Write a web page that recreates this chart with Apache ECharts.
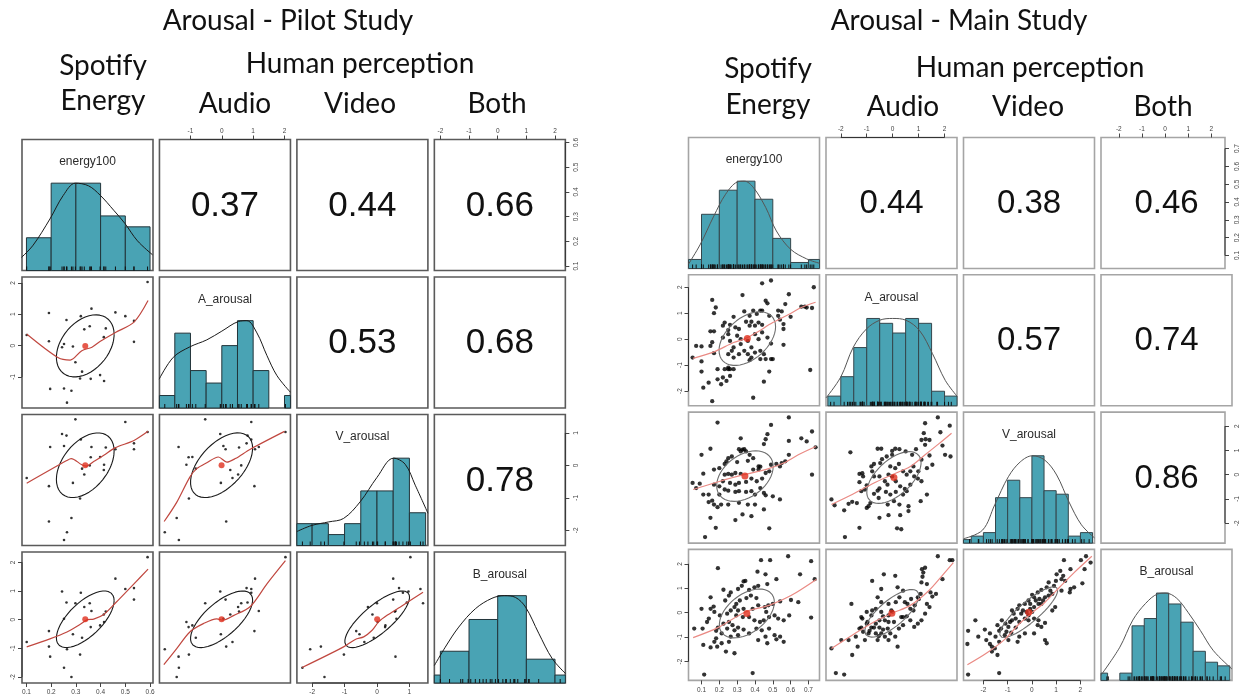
<!DOCTYPE html>
<html>
<head>
<meta charset="utf-8">
<script src="https://cdn.jsdelivr.net/npm/echarts@6/dist/echarts.min.js"></script>
<style>
html,body{margin:0;padding:0;background:#fff;}
#chart{width:1241px;height:696px;}
</style>
</head>
<body>
<div id="chart"></div>
<script>
// ---------- Variables shown on the diagonal ----------
const varNames = ['energy100', 'A_arousal', 'V_arousal', 'B_arousal'];

// ---------- Pilot study: one entry per song ----------
const pilotEnergy = [0.101,0.191,0.191,0.196,0.244,0.252,0.262,0.264,0.282,0.288,0.298,0.317,0.320,0.325,0.334,0.356,0.360,0.363,0.398,0.413,0.414,0.460,0.500,0.535,0.535,0.590,0.252,0.421];
const pilotAudio  = [0.34,1.04,0.14,-1.38,-0.05,-1.37,0.82,-1.82,-1.44,-0.03,-0.53,-1.05,0.94,-0.83,0.52,0.62,-1.06,1.18,-0.94,0.27,-1.13,1.06,0.94,0.79,0.12,2.03,0.05,0.55];
const pilotVideo  = [-0.39,-0.64,-1.73,0.57,0.97,-2.30,0.92,-2.06,-1.62,-0.54,1.42,-1.02,0.80,-0.10,-0.28,0.00,0.25,0.57,0.26,-0.14,0.02,0.50,1.34,0.68,0.50,1.03,0.60,0.55];
const pilotBoth   = [-0.78,-0.40,-0.94,-1.29,0.98,-1.68,0.60,-1.03,-2.00,-0.51,0.57,-1.22,0.94,-0.63,0.44,0.57,-0.26,0.30,-0.20,0.18,-0.08,1.43,1.07,1.10,0.70,2.18,0.03,0.28];

// correlations, in the order energy-A, energy-V, A-V, energy-B, A-B, V-B
const pilotCorr = [0.37, 0.44, 0.53, 0.66, 0.68, 0.78];
const pilotRanges = [[0.082, 0.612], [-1.99, 2.19], [-2.47, 1.57], [-2.21, 2.36]];
const pilotTicks = [[0.1,0.2,0.3,0.4,0.5,0.6], [-1,0,1,2], [-2,-1,0,1], [-2,-1,0,1,2]];
const pilotHistStart = [0.1, -2, -2.5, -3];
const pilotHistWidth = [0.1, 0.5, 0.5, 1];
const pilotHistCounts = [[3,8,8,5,4], [1,6,3,2,5,7,3,0,1], [2,2,1,2,5,5,8,3], [1,4,8,11,3,1]];
const pilotDensity = [
  [[0.080,0.15],[0.127,0.29],[0.195,0.59],[0.249,0.86],[0.298,1.0],[0.351,0.97],[0.399,0.86],[0.453,0.69],[0.498,0.54],[0.549,0.34],[0.610,0.18]],
  [[-2.0,0.33],[-1.55,0.58],[-1.02,0.70],[-0.48,0.78],[0,0.88],[0.53,0.99],[0.80,1.0],[1.12,0.86],[1.44,0.60],[1.76,0.37],[2.19,0.18]],
  [[-2.47,0.16],[-2.01,0.23],[-1.49,0.27],[-1.03,0.31],[-0.52,0.50],[0,0.78],[0.51,1.0],[0.87,0.93],[1.18,0.69],[1.57,0.37]],
  [[-2.21,0.20],[-1.83,0.41],[-1.36,0.64],[-0.78,0.85],[-0.20,0.97],[0.23,1.0],[0.62,0.98],[0.97,0.87],[1.43,0.57],[1.90,0.28],[2.36,0.11]]
];
const pilotSmooth = [
  [[0.101,0.37],[0.229,-0.39],[0.277,-0.46],[0.324,-0.16],[0.365,-0.05],[0.399,0.14],[0.460,0.42],[0.535,0.75],[0.592,1.44]],
  [[0.101,-0.55],[0.263,0.15],[0.281,0.21],[0.324,0.02],[0.342,-0.02],[0.372,0.12],[0.413,0.31],[0.458,0.54],[0.535,0.77],[0.592,1.05]],
  [[-1.84,-1.73],[-1.44,-1.14],[-1.02,-0.36],[-0.80,-0.10],[-0.48,0.08],[-0.11,0.26],[0.16,0.10],[0.43,0.21],[0.91,0.50],[2.0,1.05]],
  [[0.101,-0.95],[0.195,-0.67],[0.264,-0.43],[0.318,-0.16],[0.347,0],[0.372,0.02],[0.413,0.18],[0.460,0.58],[0.535,1.25],[0.592,1.76]],
  [[-1.85,-1.57],[-1.44,-1.01],[-1.02,-0.43],[-0.59,-0.14],[-0.16,0.03],[0.03,-0.02],[0.37,0.14],[0.91,0.46],[1.44,1.25],[2.03,2.06]],
  [[-2.31,-1.67],[-1.03,-0.95],[-0.67,-0.69],[-0.41,-0.60],[-0.15,-0.37],[0.05,-0.08],[0.31,0.15],[0.72,0.44],[1.42,0.96]]
];

// ---------- Main study: points of each scatter panel ----------
const mainEnergyAudio = [
[.44,2.15],[.49,2.26],[.33,1.70],[.16,1.51],[.59,1.73],[.73,2.00],[.46,1.48],[.47,1.38],[.18,1.22],[.34,1.07],
[.55,1.07],[.57,1.35],[.17,1.00],[.39,1.10],[.43,1.10],[.44,1.10],[.41,.97],[.37,.90],[.28,.86],[.23,.64],
[.26,.55],[.22,.52],[.25,.35],[.29,.45],[.31,.39],[.35,.67],[.38,.67],[.42,.64],[.37,.52],[.40,.52],
[.44,.55],[.48,.90],[.53,.90],[.54,.75],[.56,.58],[.66,1.25],[.68,1.25],[.69,1.22],[.72,1.20],[.60,.86],
[.15,.30],[.17,.30],[.22,.06],[.25,.19],[.30,.13],[.32,.00],[.26,-.07],[.28,-.32],[.32,-.19],[.34,-.45],
[.36,-.07],[.40,.19],[.42,.00],[.44,.26],[.47,.06],[.49,-.17],[.38,-.32],[.27,-.45],[.25,-.58],[.28,-.71],
[.31,-.58],[.36,-.58],[.38,-.71],[.40,-.52],[.43,-.45],[.45,-.58],[.37,-.81],[.43,-.77],[.16,-.12],[.15,-.26],
[.17,-.54],[.07,-.26],[.10,-.28],[.05,-.71],[.10,-.86],[.46,-.77],[.49,-.77],[.50,-.77],[.56,-.22],[.56,.39],
[.53,1.10],[.23,-1.16],[.25,-1.16],[.25,-1.10],[.26,-1.16],[.19,-1.16],[.28,-1.16],[.10,-1.25],[.19,-1.55],[.22,-1.48],
[.24,-1.61],[.26,-1.42],[.21,-1.74],[.14,-1.68],[.11,-1.87],[.48,-1.25],[.45,-1.64],[.39,-2.26],[.16,-2.39],[.71,-1.19]
];
const mainEnergyVideo = [
[.19,2.15],[.49,2.05],[.59,2.36],[.72,1.78],[.32,1.50],[.47,1.67],[.59,1.39],[.66,1.50],[.69,1.37],[.46,1.46],
[.45,1.26],[.74,1.13],[.15,1.07],[.10,.82],[.31,1.05],[.33,1.03],[.34,1.05],[.35,.96],[.32,.96],[.37,.82],
[.27,.75],[.25,.68],[.24,.55],[.23,.44],[.30,.52],[.36,.57],[.39,.68],[.42,.34],[.43,.33],[.49,.41],
[.52,.44],[.55,.48],[.57,.55],[.59,.82],[.54,.34],[.20,.27],[.17,.21],[.11,.04],[.23,.00],[.25,.03],
[.27,.00],[.29,.07],[.32,.03],[.39,.21],[.42,.21],[.46,.07],[.48,.14],[.72,.00],[.05,-.34],[.09,-.37],
[.07,-.55],[.17,-.41],[.20,-.48],[.22,-.27],[.26,-.34],[.29,-.41],[.31,-.34],[.35,-.30],[.38,-.16],[.41,-.27],
[.44,-.16],[.23,-.61],[.25,-.66],[.29,-.71],[.31,-.68],[.35,-.71],[.38,-.68],[.43,-.55],[.45,-.75],[.14,-.82],
[.11,-.82],[.20,-.82],[.40,-.82],[.46,-.85],[.50,-.89],[.54,-1.02],[.14,-1.13],[.16,-1.07],[.17,-1.23],[.19,-1.34],
[.21,-1.23],[.25,-1.23],[.31,-1.16],[.36,-1.23],[.40,-1.23],[.45,-1.43],[.33,-1.64],[.15,-1.78],[.29,-1.87],[.38,-1.71],
[.18,-2.19],[.48,-2.21],[.12,-2.57]
];
const mainAudioVideo = [
[-2.36,-1.02],[-2.24,-1.26],[-1.70,-1.20],[-1.56,-1.12],[-1.38,-1.17],[-1.28,-2.19],[-1.84,-2.57],[-1.00,-1.37],[-.93,-1.30],[-.86,-1.17],
[-1.21,-.68],[-1.07,-.61],[-1.00,-.44],[-.72,-.79],[-.58,-.66],[-.51,-.57],[-1.28,-.31],[-1.14,-.07],[-.79,.14],[-.72,-.07],
[-.51,-.07],[-.30,-.27],[-.20,-.41],[-1.28,.03],[-1.17,.06],[-.82,.34],[-.72,.44],[-.48,.48],[-.41,.64],[-.58,1.07],
[-.44,1.07],[-.23,.75],[-.02,.82],[-.09,.34],[.10,.27],[.24,.44],[.40,.14],[.54,.00],[.68,.14],[.83,-.07],
[.97,-.16],[1.11,-.27],[-.16,.00],[-.02,-.07],[.12,-.27],[.29,-.48],[.47,-.59],[.68,-.41],[.40,-.82],[.12,-.71],
[-.09,-.82],[-.26,-.71],[-.54,-.96],[-.19,-1.23],[.05,-1.09],[.26,-1.23],[.61,-1.30],[.61,-1.50],[.29,-1.67],[-.16,-1.67],
[-.51,-1.78],[.17,-2.21],[.33,-2.25],[.54,-.68],[1.08,-1.09],[1.32,-.82],[1.11,.62],[.75,.82],[.90,1.05],[1.25,1.23],
[1.11,1.43],[1.27,1.46],[1.42,1.43],[1.20,1.71],[1.25,2.12],[1.74,2.36],[1.84,1.75],[2.20,2.02],[2.02,.82],[1.92,1.20],
[2.23,.75],[1.42,.79],[1.53,.41],[1.32,.27],[.99,.14],[.80,.34],[.50,.96],[.26,1.05],[.10,1.07],[-.02,.98],
[-1.63,.92],[-1.87,-1.47]
];
const mainEnergyBoth = [
[.115,-2.53],[.387,-2.47],[.192,1.82],[.434,2.15],[.485,2.15],[.586,2.31],[.715,2.11],[.653,1.57],[.735,1.37],[.459,1.57],
[.414,1.68],[.336,1.28],[.326,1.10],[.346,1.30],[.305,.97],[.223,.94],[.264,.83],[.397,1.04],[.418,1.10],[.469,1.17],
[.520,1.37],[.367,.93],[.377,.70],[.408,.60],[.352,.60],[.315,.50],[.295,.36],[.285,.23],[.233,.50],[.254,.70],
[.168,.25],[.151,.16],[.172,.03],[.203,-.11],[.244,-.04],[.264,.09],[.305,.09],[.336,.16],[.387,.16],[.418,.30],
[.455,.23],[.475,.30],[.500,.36],[.541,.46],[.602,.52],[.643,.43],[.715,-.20],[.592,-.11],[.561,-.31],[.530,-.24],
[.510,-.11],[.463,.03],[.449,-.31],[.428,-.38],[.397,-.31],[.367,-.18],[.332,-.18],[.295,-.11],[.254,-.38],[.223,-.45],
[.274,-.51],[.305,-.61],[.336,-.69],[.285,-.72],[.244,-.65],[.192,-.61],[.182,-.74],[.213,-.85],[.264,-.98],[.305,-.92],
[.367,-.85],[.408,-.65],[.438,-.72],[.479,-.65],[.510,-.92],[.541,-.98],[.561,-1.19],[.520,-1.09],[.469,-1.25],[.254,-1.19],
[.213,-1.25],[.172,-1.19],[.110,-1.32],[.059,-.65],[.106,-.65],[.131,-.38],[.141,-.24],[.182,-1.05],[.188,-1.39],[.151,-1.42],
[.237,-1.59],[.285,-1.66],[.418,-1.12],[.459,-.98],[.479,-.18],[.100,.16],[.151,.63]
];
const mainAudioBoth = [
[-2.36,-1.46],[-2.19,-2.47],[-1.87,-2.53],[-1.98,-1.12],[-1.70,-1.12],[-1.56,-1.73],[-1.59,.36],[-1.28,-.65],[-1.21,-.61],[-1.14,-.78],
[-1.07,-1.12],[-1.35,-1.39],[-1.42,-.98],[-.93,-.85],[-.89,-.74],[-.82,-.61],[-.72,-.61],[-1.00,-.45],[-1.17,-.24],[-1.21,-.18],
[-.82,-.11],[-.65,-.45],[-.51,-.61],[-.37,-.69],[-.44,-.85],[-.54,-.96],[-.58,-1.12],[-.30,-.98],[-.09,-.85],[-.16,-1.12],
[.10,-.98],[.24,-.65],[.40,-.51],[.19,-1.39],[-.02,.03],[-.16,.36],[-.44,.43],[-.58,.63],[-.44,.97],[-.79,1.30],
[-.34,1.57],[.10,1.51],[.19,1.04],[.40,.90],[.26,.63],[.12,.43],[.47,.43],[.57,.36],[.71,.56],[.68,.16],
[.80,.09],[.85,.30],[.97,.63],[1.01,.56],[1.08,.77],[.54,-.15],[.40,-.18],[.68,-.31],[.83,-.58],[.97,-.45],
[1.11,-.31],[1.25,-.04],[1.42,.23],[1.11,1.24],[1.15,1.47],[1.18,1.64],[1.13,1.78],[1.25,1.84],[1.74,2.31],[2.20,2.15],
[2.30,2.15],[1.32,1.17],[1.46,.83],[1.53,.66],[1.67,.77],[1.92,1.37],[1.32,.36],[.33,-.18],[.05,-.38],[-.16,-.38],
[-.30,-.31],[-.16,-.11],[-.05,.09],[-.37,-.15],[-.44,.03],[-.65,.16],[-.79,.09],[-1.00,.03],[-.97,-.38],[-.65,-.85],
[-.19,-.65],[-.51,-.31]
];
const mainVideoBoth = [
[-2.63,-2.53],[-1.35,-2.47],[-2.63,-.74],[-2.66,-1.28],[-2.33,-.31],[-2.21,-.98],[-1.94,-.69],[-1.73,-.85],[-1.88,-1.12],[-1.73,-1.28],
[-1.65,-1.39],[-1.53,-1.46],[-1.65,-1.59],[-1.42,-1.73],[-1.35,-1.19],[-1.50,-.98],[-1.35,-.74],[-1.27,-.65],[-1.05,-.78],[-1.12,-.92],
[-.97,-.58],[-1.09,-.45],[-1.42,-.51],[-1.24,-.31],[-.90,-.38],[-.82,-.31],[-.67,-.24],[-.75,-.04],[-.82,.09],[-.59,.16],
[-.52,.30],[-.37,.09],[-.44,-.04],[-.22,.03],[-.14,-.11],[-.07,.16],[.01,.03],[.09,.23],[-.29,.36],[-.14,.50],
[.16,.50],[.31,.56],[.27,.36],[.39,.36],[.46,.50],[.54,.63],[.69,.70],[.76,.90],[.84,.77],[.61,1.04],
[.69,1.24],[.39,.93],[.24,.83],[.01,.73],[.09,.63],[.91,1.10],[.99,1.30],[1.02,1.57],[1.17,1.71],[1.22,1.37],
[1.29,1.51],[1.37,1.30],[1.22,.90],[1.56,.83],[1.74,1.04],[1.32,2.15],[2.02,2.15],[2.23,2.31],[2.17,1.78],[2.42,2.05],
[2.08,1.20],[1.59,.97],[-.14,-.31],[.24,-.51],[.39,-.58],[.54,-.42],[.09,-.24],[-.29,-.24],[-.52,-.38],[-.67,-.61],
[-.85,-.82],[-.52,-.98],[-.29,-.85],[-.59,-1.19],[-.97,-1.12],[.09,-.85],[.54,-1.12],[.61,-1.25],[.27,-.31],[.84,.09],
[.96,.23],[-.07,.36],[1.59,1.78]
];

const mainCorr = [0.44, 0.38, 0.57, 0.46, 0.74, 0.86];
const mainRanges = [[0.027, 0.762], [-2.57, 2.48], [-2.82, 2.58], [-2.77, 2.59]];
const mainTicks = [[0.1,0.2,0.3,0.4,0.5,0.6,0.7], [-2,-1,0,1,2], [-2,-1,0,1,2], [-2,-1,0,1,2]];
const mainHistStart = [0, -2.5, -3, -3];
const mainHistWidth = [0.1, 0.5, 0.5, 0.5];
const mainHistCounts = [[3,18,26,29,23,10,2,3], [2,6,12,18,17,15,18,17,3,2], [1,2,3,13,18,13,25,15,14,2,3], [2,0,2,15,17,24,21,16,8,5,4]];
const mainDensity = [
  [[0.027,0.05],[0.094,0.28],[0.169,0.60],[0.235,0.85],[0.30,0.99],[0.34,1.0],[0.39,0.93],[0.46,0.70],[0.52,0.43],[0.60,0.22],[0.69,0.11],[0.762,0.06]],
  [[-2.57,0.09],[-2.0,0.33],[-1.52,0.67],[-1.01,0.88],[-0.5,0.98],[0,1.0],[0.51,0.98],[1.04,0.86],[1.53,0.60],[2.03,0.29],[2.48,0.11]],
  [[-2.82,0.05],[-2.03,0.15],[-1.53,0.44],[-0.97,0.76],[-0.48,0.93],[0.02,1.0],[0.53,0.95],[1.02,0.78],[1.53,0.47],[2.04,0.21],[2.58,0.06]],
  [[-2.77,0.06],[-2.0,0.38],[-1.47,0.69],[-0.95,0.88],[-0.45,0.99],[-0.12,1.0],[0.33,0.94],[0.79,0.78],[1.3,0.57],[1.83,0.34],[2.59,0.13]]
];
const mainSmooth = [
  [[0.053,-0.74],[0.17,-0.49],[0.28,-0.13],[0.34,0],[0.41,0.26],[0.50,0.64],[0.60,0.99],[0.66,1.22],[0.74,1.42]],
  [[0.053,-0.61],[0.19,-0.30],[0.336,0],[0.459,0.21],[0.561,0.48],[0.643,0.82],[0.742,1.16]],
  [[-2.36,-1.23],[-1.56,-0.82],[-0.72,-0.34],[-0.02,0],[0.68,0.34],[1.25,0.82],[1.81,1.30],[2.27,1.71]],
  [[0.053,-1.02],[0.192,-0.61],[0.346,0.03],[0.479,0.30],[0.602,0.70],[0.746,1.37]],
  [[-2.36,-1.46],[-1.56,-0.92],[-0.72,-0.38],[-0.02,-0.02],[0.68,0.30],[1.39,0.90],[1.95,1.57],[2.34,2.05]],
  [[-2.66,-2.13],[-1.88,-1.66],[-1.12,-1.09],[-0.52,-0.45],[0.01,0],[0.54,0.43],[1.14,1.04],[1.74,1.64],[2.47,2.31]]
];

// ---------- Page headings ----------
const headings = [
  ['Arousal - Pilot Study', 288, 21], ['Spotify', 103, 66], ['Energy', 103, 101], ['Human perception', 360, 64],
  ['Audio', 235, 104], ['Video', 360, 104], ['Both', 497, 104],
  ['Arousal - Main Study', 959, 21], ['Spotify', 768, 69], ['Energy', 768, 105], ['Human perception', 1030, 68],
  ['Audio', 903, 107], ['Video', 1028, 107], ['Both', 1163, 107]
];

// ---------- Drawing ----------
const FONT_SANS = '"Liberation Sans", Arial, Helvetica, sans-serif';
const FONT_HEAD = 'Lato, "Open Sans", sans-serif';
const HIST_FILL = '#49a3b4';
const MEAN_RED = '#e0301e';
const LOWER = [[1,0],[2,0],[2,1],[3,0],[3,1],[3,2]];

const looks = {
  pilot: {left:22, top:139.5, pitchX:137.45, pitchY:137.5, size:131, box:'#5a5a5a', boxWidth:1.6, dot:2.6, meanDot:6,
          smooth:'#c0473f', ellipse:'#1a1a1a', density:'#1a1a1a', histEdge:'#22343a', corrSize:35, rightMargin:7},
  main:  {left:688.5, top:137.5, pitchX:137.5, pitchY:137.3, size:131, box:'#a5a5a5', boxWidth:1.6, dot:4.3, meanDot:7,
          smooth:'#ea8a84', ellipse:'#6e6e6e', density:'#555555', histEdge:'#34464c', corrSize:33, rightMargin:9}
};

const zip = (xs, ys) => xs.map((x, k) => [x, ys[k]]);
const pilotVars = [pilotEnergy, pilotAudio, pilotVideo, pilotBoth];

const studies = [
  { look: looks.pilot, ranges: pilotRanges, ticks: pilotTicks, corr: pilotCorr,
    panels: LOWER.map(([i, j]) => zip(pilotVars[j], pilotVars[i])),
    rugs: pilotVars, smooth: pilotSmooth, density: pilotDensity,
    histStart: pilotHistStart, histWidth: pilotHistWidth, histCounts: pilotHistCounts },
  { look: looks.main, ranges: mainRanges, ticks: mainTicks, corr: mainCorr,
    panels: [mainEnergyAudio, mainEnergyVideo, mainAudioVideo, mainEnergyBoth, mainAudioBoth, mainVideoBoth],
    rugs: [mainEnergyAudio.map(p => p[0]), mainEnergyAudio.map(p => p[1]), mainEnergyVideo.map(p => p[1]), mainEnergyBoth.map(p => p[1])],
    smooth: mainSmooth, density: mainDensity,
    histStart: mainHistStart, histWidth: mainHistWidth, histCounts: mainHistCounts }
];

function stats(vals) {
  const n = vals.length;
  const m = vals.reduce((a, b) => a + b, 0) / n;
  const sd = Math.sqrt(vals.reduce((a, b) => a + (b - m) * (b - m), 0) / (n - 1));
  return [m, sd];
}

// one-standard-deviation correlation ellipse around the means
function corrEllipse(pts, r) {
  const [mx, sx] = stats(pts.map(p => p[0]));
  const [my, sy] = stats(pts.map(p => p[1]));
  const q = Math.sqrt(1 - r * r);
  const ring = [];
  for (let k = 0; k <= 96; k++) {
    const t = 2 * Math.PI * k / 96;
    ring.push([mx + sx * Math.cos(t), my + sy * (r * Math.cos(t) + q * Math.sin(t))]);
  }
  return { ring, mean: [mx, my] };
}

const fmtTick = v => String(+(+v).toFixed(2));

const option = { animation: false, backgroundColor: '#ffffff', grid: [], xAxis: [], yAxis: [], series: [], graphic: [] };

function axisSpec(min, max, pos, ticks, rotate, margin) {
  const on = !!pos;
  return {
    type: 'value', min, max, position: pos || undefined,
    axisLine: { show: false, onZero: false },
    axisTick: { show: on, inside: false, length: 4, customValues: ticks, lineStyle: { color: '#444', width: 1 } },
    axisLabel: { show: on, customValues: ticks, formatter: fmtTick, fontSize: 6.5, color: '#444',
                 fontFamily: FONT_SANS, margin: margin, rotate: rotate || 0 },
    splitLine: { show: false }
  };
}

function lineSeries(g, data, color, width, smooth, z) {
  return { type: 'line', xAxisIndex: g, yAxisIndex: g, data, showSymbol: false, symbol: 'none',
           smooth: smooth || false, lineStyle: { color, width }, silent: true, z: z || 3 };
}

studies.forEach(sd => {
  const L = sd.look;
  for (let i = 0; i < 4; i++) {
    for (let j = 0; j < 4; j++) {
      const g = option.grid.length;
      const left = L.left + j * L.pitchX;
      const top = L.top + i * L.pitchY;
      option.grid.push({ left, top, width: L.size, height: L.size, show: true,
                         borderColor: L.box, borderWidth: L.boxWidth, backgroundColor: 'transparent' });

      const xPos = (i === 0 && j % 2 === 1) ? 'top' : (i === 3 && j % 2 === 0) ? 'bottom' : null;
      const yPos = (j === 0 && i % 2 === 1) ? 'left' : (j === 3 && i % 2 === 0) ? 'right' : null;
      const xr = sd.ranges[j];
      const yr = i === j ? [0, 1.5] : sd.ranges[i];
      const xa = axisSpec(xr[0], xr[1], xPos, sd.ticks[j], 0, xPos === 'top' ? 5 : 6); xa.gridIndex = g;
      const ya = axisSpec(yr[0], yr[1], yPos, i === j ? [] : sd.ticks[i], 90, yPos === 'right' ? L.rightMargin : 5); ya.gridIndex = g;
      option.xAxis.push(xa);
      option.yAxis.push(ya);

      // axis line between the first and last tick
      const tx = sd.ticks[j], ty = sd.ticks[i];
      let seg = null;
      if (xPos === 'top') seg = [[tx[0], yr[1]], [tx[tx.length - 1], yr[1]]];
      if (xPos === 'bottom') seg = [[tx[0], yr[0]], [tx[tx.length - 1], yr[0]]];
      if (yPos === 'left') seg = [[xr[0], ty[0]], [xr[0], ty[ty.length - 1]]];
      if (yPos === 'right') seg = [[xr[1], ty[0]], [xr[1], ty[ty.length - 1]]];
      if (seg) {
        const s = lineSeries(g, seg, '#333', 1, false, 9);
        s.clip = false;
        option.series.push(s);
      }

      if (i === j) {
        // histogram, density curve, rug and variable name
        const counts = sd.histCounts[i];
        const top1 = Math.max(...counts);
        const bars = counts.map((c, k) => [sd.histStart[i] + k * sd.histWidth[i], sd.histStart[i] + (k + 1) * sd.histWidth[i], c / top1])
                           .filter(b => b[2] > 0);
        option.series.push({
          type: 'custom', xAxisIndex: g, yAxisIndex: g, data: bars, encode: { x: [0, 1], y: 2 }, silent: true, z: 2,
          renderItem: (params, api) => {
            const a = api.coord([api.value(0), 0]);
            const b = api.coord([api.value(1), api.value(2)]);
            const cs = params.coordSys;
            const shape = echarts.graphic.clipRectByRect(
              { x: a[0], y: b[1], width: b[0] - a[0], height: a[1] - b[1] },
              { x: cs.x, y: cs.y, width: cs.width, height: cs.height });
            if (!shape) return null;
            return { type: 'rect', shape, style: { fill: HIST_FILL, stroke: L.histEdge, lineWidth: 1 } };
          }
        });
        option.series.push(lineSeries(g, sd.density[i], L.density, 1, 0.35, 4));
        option.series.push({
          type: 'custom', xAxisIndex: g, yAxisIndex: g, data: sd.rugs[i].map(v => [v, 0]), encode: { x: 0, y: 1 }, silent: true, z: 5,
          renderItem: (params, api) => {
            const p = api.coord([api.value(0), 0]);
            const cs = params.coordSys;
            if (p[0] < cs.x || p[0] > cs.x + cs.width) return null;
            return { type: 'line', shape: { x1: p[0], y1: p[1], x2: p[0], y2: p[1] - 4 }, style: { stroke: '#111', lineWidth: 1 } };
          }
        });
        option.graphic.push({ type: 'text', x: left + L.size / 2, y: top + 22.5, silent: true,
          style: { text: varNames[i], fill: '#2a2a2a', fontSize: 12, fontFamily: FONT_SANS, align: 'center', verticalAlign: 'middle' } });
      } else if (i > j) {
        const k = LOWER.findIndex(p => p[0] === i && p[1] === j);
        const pts = sd.panels[k];
        const el = corrEllipse(pts, sd.corr[k]);
        option.series.push({ type: 'scatter', xAxisIndex: g, yAxisIndex: g, data: pts, symbolSize: L.dot,
                             itemStyle: { color: '#000' }, silent: true, z: 3 });
        option.series.push(lineSeries(g, el.ring, L.ellipse, 1.1, false, 4));
        option.series.push(lineSeries(g, sd.smooth[k], L.smooth, 1.2, 0.3, 5));
        option.series.push({ type: 'scatter', xAxisIndex: g, yAxisIndex: g, data: [el.mean], symbolSize: L.meanDot,
                             itemStyle: { color: MEAN_RED }, silent: true, z: 6 });
      } else {
        const k = LOWER.findIndex(p => p[0] === j && p[1] === i);
        option.graphic.push({ type: 'text', x: left + L.size / 2, y: top + L.size / 2 + 1, silent: true,
          style: { text: sd.corr[k].toFixed(2), fill: '#111', fontSize: L.corrSize, fontFamily: FONT_SANS,
                   align: 'center', verticalAlign: 'middle' } });
      }
    }
  }
});

headings.forEach(([text, x, y]) => {
  option.graphic.push({ type: 'text', x, y, silent: true,
    style: { text, fill: '#111', fontSize: 28, fontFamily: FONT_HEAD, align: 'center', verticalAlign: 'middle' } });
});

const chart = echarts.init(document.getElementById('chart'), null, { renderer: 'canvas', width: 1241, height: 696 });
chart.setOption(option);
</script>
</body>
</html>
